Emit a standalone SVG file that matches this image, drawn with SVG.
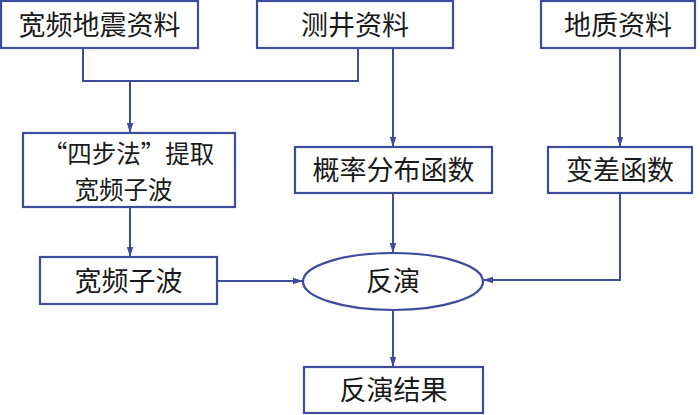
<svg xmlns="http://www.w3.org/2000/svg" width="700" height="415" viewBox="0 0 700 415">
<style>
.box{fill:#fff;stroke:#3f4b9b;stroke-width:2.2}
.ln{fill:none;stroke:#3f4b9b;stroke-width:2}
.t{font-family:"Noto Sans CJK SC","Noto Sans",sans-serif;font-size:27px;fill:#1a1a1a;text-anchor:middle}
.s{font-size:24.5px}
</style>
<defs>
<marker id="ah" markerWidth="10" markerHeight="8" refX="10" refY="4" orient="auto" markerUnits="userSpaceOnUse">
<path d="M0,0.8 L10,4 L0,7.2 Z" fill="#3f4b9b"/>
</marker>
</defs>
<rect width="700" height="415" fill="#fff"/>
<g id="connectors">
<path class="ln" d="M83,48 V81 H358 V48"/>
<path class="ln" d="M130,81 V133" marker-end="url(#ah)"/>
<path class="ln" d="M393,48 V147" marker-end="url(#ah)"/>
<path class="ln" d="M620,48 V147" marker-end="url(#ah)"/>
<path class="ln" d="M130,207 V257" marker-end="url(#ah)"/>
<path class="ln" d="M393,193 V253" marker-end="url(#ah)"/>
<path class="ln" d="M620,193 V280 H483" marker-end="url(#ah)"/>
<path class="ln" d="M217,281 H303" marker-end="url(#ah)"/>
<path class="ln" d="M393,310 V367" marker-end="url(#ah)"/>
</g>
<g id="n1"><rect class="box" x="1" y="1" width="197" height="47"/><text class="t" x="99.5" y="35">宽频地震资料</text></g>
<g id="n2"><rect class="box" x="257" y="1" width="196" height="47"/><text class="t" x="355" y="35">测井资料</text></g>
<g id="n3"><rect class="box" x="541" y="1" width="154" height="47"/><text class="t" x="618" y="35">地质资料</text></g>
<g id="n4"><rect class="box" x="23" y="133" width="212" height="74"/><text class="t s" x="128.5" y="163">“四步法”提取</text><text class="t s" x="123.5" y="199">宽频子波</text></g>
<g id="n5"><rect class="box" x="295" y="147" width="197" height="46"/><text class="t" x="393.5" y="180">概率分布函数</text></g>
<g id="n6"><rect class="box" x="548" y="147" width="144" height="46"/><text class="t" x="620" y="180">变差函数</text></g>
<g id="n7"><rect class="box" x="40" y="257" width="177" height="47"/><text class="t" x="128.5" y="291">宽频子波</text></g>
<g id="n8"><ellipse class="box" cx="393" cy="281.5" rx="90" ry="28.5"/><text class="t" x="393" y="291">反演</text></g>
<g id="n9"><rect class="box" x="304" y="367" width="179" height="46"/><text class="t" x="393.5" y="400">反演结果</text></g>
</svg>
